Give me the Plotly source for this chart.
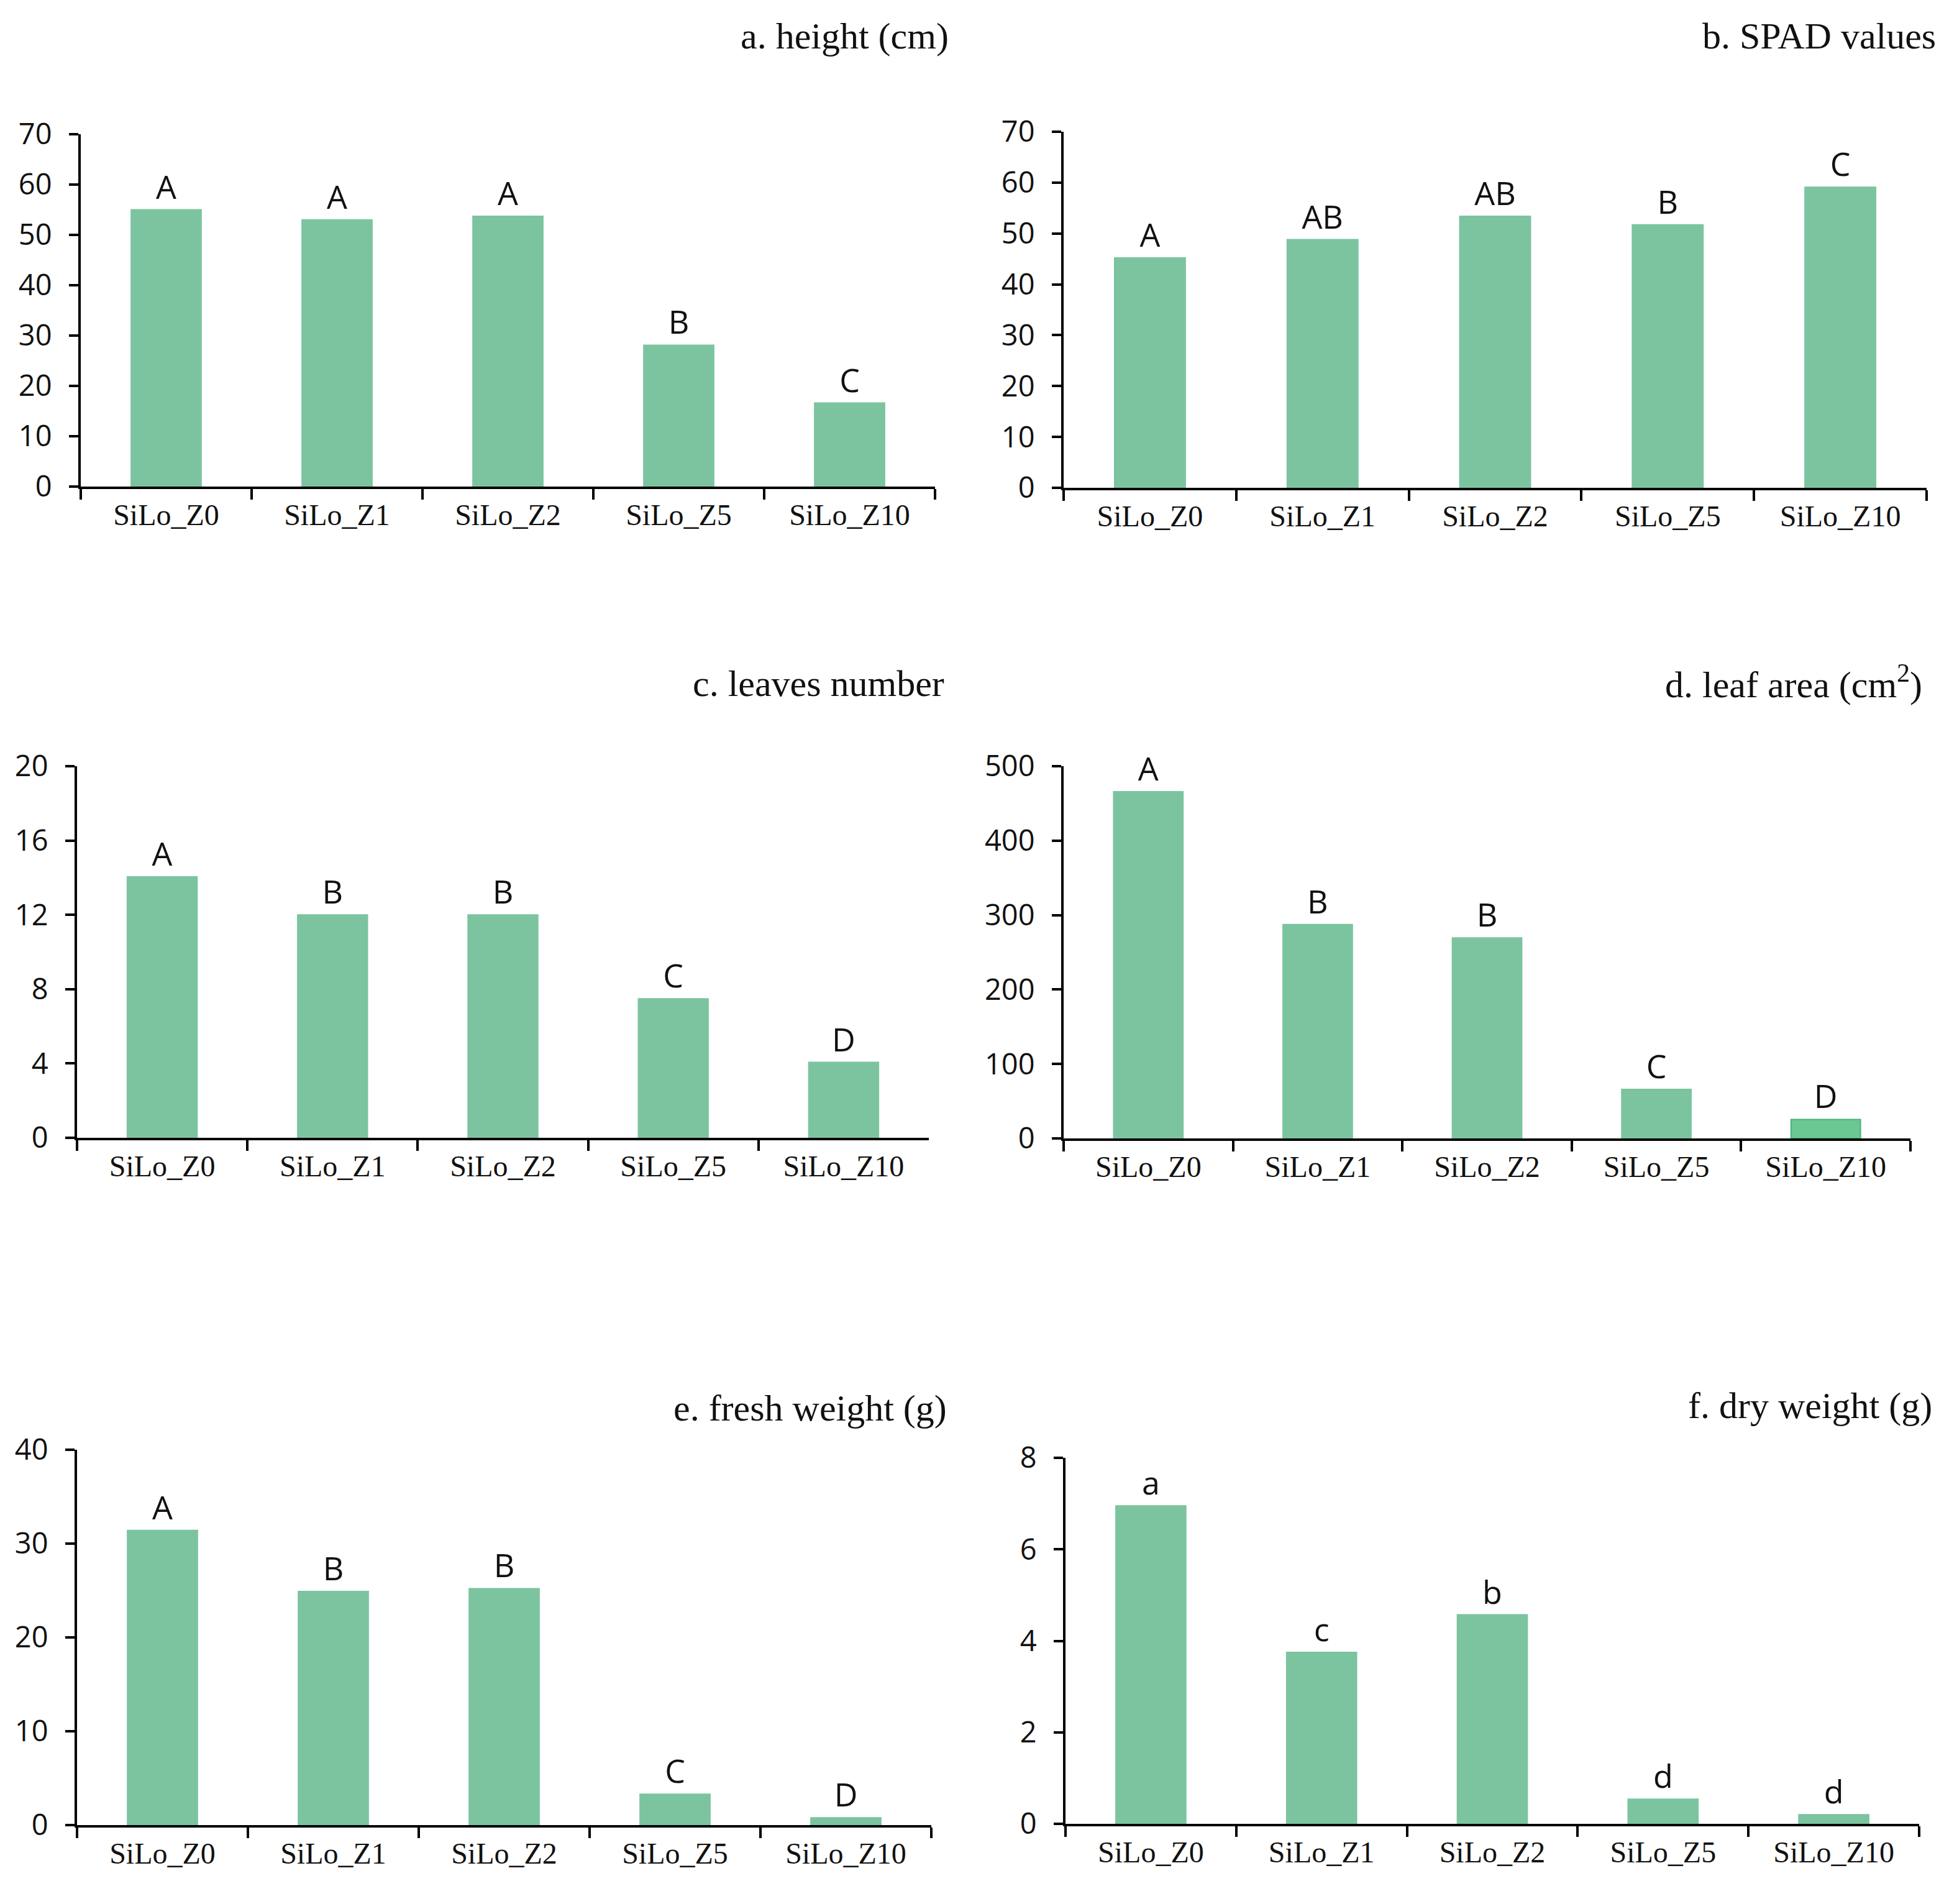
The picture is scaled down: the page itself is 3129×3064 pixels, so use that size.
import plotly.graph_objects as go

W, H = 3129, 3064
OFF = 8  # default page body margin
FW, FH = W - OFF, H - OFF

categories = ["SiLo_Z0", "SiLo_Z1", "SiLo_Z2", "SiLo_Z5", "SiLo_Z10"]

height_cm = [55.0, 53.0, 53.7, 28.1, 16.6]
height_letters = ["A", "A", "A", "B", "C"]

spad_values = [45.2, 48.8, 53.4, 51.7, 59.1]
spad_letters = ["A", "AB", "AB", "B", "C"]

leaves_number = [14.05, 12.0, 12.0, 7.48, 4.06]
leaves_letters = ["A", "B", "B", "C", "D"]

leaf_area = [465.8, 287.4, 269.5, 66.0, 25.5]
leaf_area_letters = ["A", "B", "B", "C", "D"]

fresh_weight = [31.4, 24.9, 25.2, 3.3, 0.77]
fresh_letters = ["A", "B", "B", "C", "D"]

dry_weight = [6.95, 3.75, 4.57, 0.54, 0.2]
dry_letters = ["a", "c", "b", "d", "d"]

titles = [
    "a. height (cm)",
    "b. SPAD values",
    "c. leaves number",
    "d. leaf area (cm<sup>2</sup>)",
    "e. fresh weight (g)",
    "f. dry weight (g)",
]
y_ticks = [
    [0, 10, 20, 30, 40, 50, 60, 70],
    [0, 10, 20, 30, 40, 50, 60, 70],
    [0, 4, 8, 12, 16, 20],
    [0, 100, 200, 300, 400, 500],
    [0, 10, 20, 30, 40],
    [0, 2, 4, 6, 8],
]

series = [height_cm, spad_values, leaves_number, leaf_area, fresh_weight, dry_weight]
letters = [height_letters, spad_letters, leaves_letters, leaf_area_letters, fresh_letters, dry_letters]

# layout in page pixels: (x_left, x_right, y_top, y_bottom), title (right x, center y)
panels_px = [
    (130, 1505, 216, 783),
    (1712, 3101, 212, 785),
    (124, 1495, 1233, 1831),
    (1712, 3075, 1233, 1832),
    (124, 1499, 2333, 2937),
    (1715, 3089, 2346, 2935),
]
title_px = [
    (1529, 58),
    (3118, 58),
    (1522, 1100),
    (3096, 1097),
    (1526, 2266),
    (3112, 2262),
]


def fx(px):
    return (px - OFF) / FW


def fy(py):
    return 1 - (py - OFF) / FH


BAR = "#7CC4A0"
fig = go.Figure()

for i in range(6):
    n = i + 1
    sfx = str(n) if n > 1 else ""
    xl, xr, yt, yb = panels_px[i]
    colors = [BAR] * 5
    line_colors = [BAR] * 5
    if i == 3:
        colors[4] = "#6CC793"
        line_colors[4] = "#45B577"
    fig.add_trace(go.Bar(
        x=categories, y=series[i],
        xaxis="x" + sfx, yaxis="y" + sfx,
        width=0.41,
        marker=dict(color=colors, line=dict(color=line_colors, width=2)),
        text=letters[i], textposition="outside",
        textfont=dict(family="Open Sans", size=52, color="#111111"),
        cliponaxis=False, constraintext="none",
        showlegend=False, hoverinfo="skip",
    ))
    xa = dict(
        domain=[fx(xl), fx(xr)],
        anchor="y" + sfx,
        type="category", range=[-0.5, 4.5],
        automargin=False,
        showline=True, linecolor="black", linewidth=4,
        ticks="outside", tickson="boundaries", ticklen=17, tickwidth=4, tickcolor="black",
        tickfont=dict(family="Liberation Serif", size=48, color="#111111"),
        showgrid=False, zeroline=False, fixedrange=True,
    )
    ya = dict(
        domain=[fy(yb), fy(yt)],
        anchor="x" + sfx,
        automargin=False,
        range=[0, max(y_ticks[i])], tickvals=y_ticks[i],
        showline=True, linecolor="black", linewidth=4,
        ticks="outside", ticklen=15, tickwidth=4, tickcolor="black",
        tickfont=dict(family="Open Sans", size=47, color="#111111"),
        ticklabelstandoff=18,
        showgrid=False, zeroline=False, fixedrange=True,
    )
    fig.update_layout(**{"xaxis" + sfx: xa, "yaxis" + sfx: ya})
    tx, ty = title_px[i]
    fig.add_annotation(
        text=titles[i], xref="paper", yref="paper",
        x=fx(tx), y=fy(ty), xanchor="right", yanchor="middle",
        showarrow=False,
        font=dict(family="Liberation Serif", size=60, color="#111111"),
    )

fig.update_layout(
    template="none",
    width=FW, height=FH,
    margin=dict(l=0, r=0, t=0, b=0, pad=0, autoexpand=False),
    paper_bgcolor="white", plot_bgcolor="white",
    bargap=0.59,
)

fig.write_html("out.html")
